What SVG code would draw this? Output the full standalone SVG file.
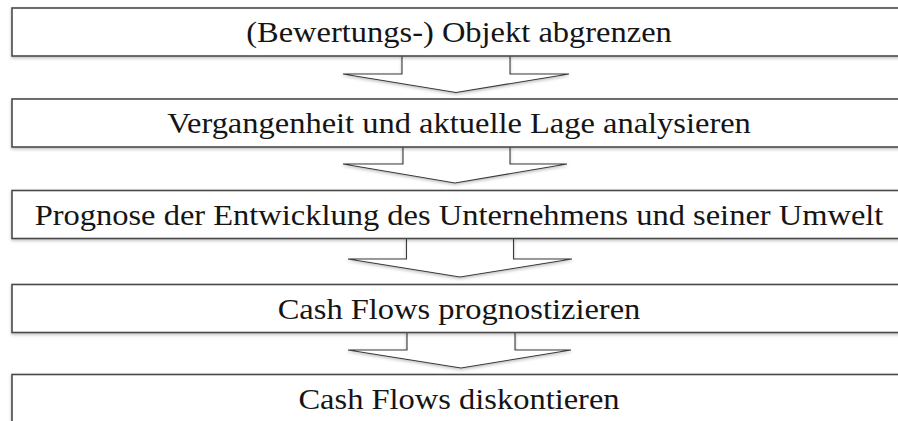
<svg xmlns="http://www.w3.org/2000/svg" width="898" height="421" viewBox="0 0 898 421">
<defs>
<filter id="sh" x="-10%" y="-30%" width="120%" height="180%">
<feDropShadow dx="0" dy="1.5" stdDeviation="1.5" flood-color="#000" flood-opacity="0.25"/>
</filter>
<style>
.box{fill:#fff;stroke:#4a4a4a;stroke-width:1.6;filter:url(#sh)}
.arr{fill:#fff;stroke:#3a3a3a;stroke-width:1.1;stroke-linejoin:miter;filter:url(#sh)}
.lbl{font-family:"Liberation Serif","Times New Roman",serif;font-size:28.5px;fill:#151515;text-anchor:middle}
</style>
</defs>
<rect width="898" height="421" fill="#fff"/>
<g id="connectors">
<path class="arr" d="M402,56 V74 H343 L456,92.5 L569,74 H510 V56"/>
<path class="arr" d="M403,147 V164 H343 L455,183 L567,164 H510 V147"/>
<path class="arr" d="M406.5,238.5 V259 H348 L460,277 L572,259 H513.5 V238.5"/>
<path class="arr" d="M407,332.5 V350 H348 L461,368 L571,350 H515 V332.5"/>
</g>
<g id="node1">
<rect class="box" x="12" y="8" width="900" height="48"/>
<text class="lbl" transform="translate(459,42) scale(1.14,1)">(Bewertungs-) Objekt abgrenzen</text>
</g>
<g id="node2">
<rect class="box" x="12" y="99" width="900" height="48"/>
<text class="lbl" transform="translate(459,133) scale(1.14,1)">Vergangenheit und aktuelle Lage analysieren</text>
</g>
<g id="node3">
<rect class="box" x="12" y="190.5" width="900" height="48"/>
<text class="lbl" transform="translate(459,224.5) scale(1.14,1)">Prognose der Entwicklung des Unternehmens und seiner Umwelt</text>
</g>
<g id="node4">
<rect class="box" x="12" y="284.5" width="900" height="48"/>
<text class="lbl" transform="translate(459,318.5) scale(1.14,1)">Cash Flows prognostizieren</text>
</g>
<g id="node5">
<rect class="box" x="12" y="374.5" width="900" height="60"/>
<text class="lbl" transform="translate(459,408.5) scale(1.14,1)">Cash Flows diskontieren</text>
</g>
</svg>
